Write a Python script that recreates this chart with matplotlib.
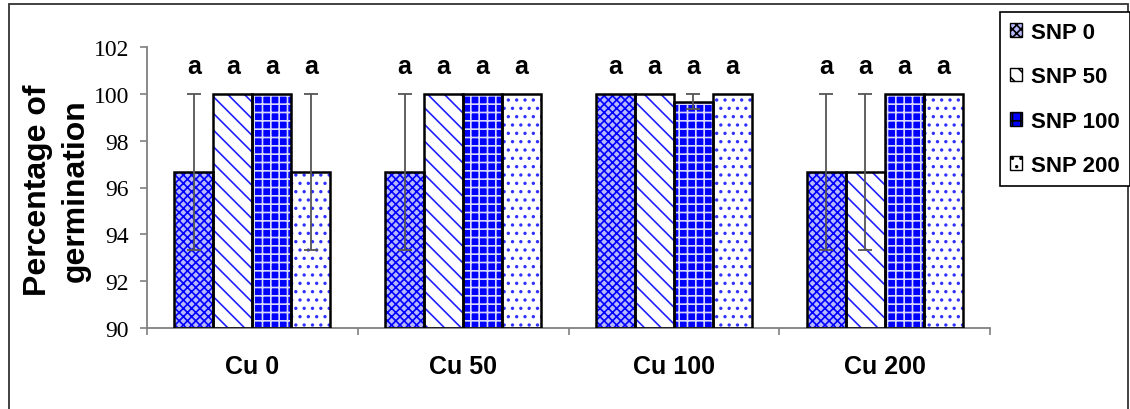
import matplotlib
matplotlib.use("Agg")
import matplotlib.pyplot as plt
import numpy as np
from matplotlib.patches import Patch, Rectangle

# germination (%) per Cu level, one list per SNP dose
cu_levels = ["Cu 0", "Cu 50", "Cu 100", "Cu 200"]
snp_labels = ["SNP 0", "SNP 50", "SNP 100", "SNP 200"]
snp0 = [96.67, 96.67, 100.0, 96.67]
snp50 = [100.0, 100.0, 100.0, 96.67]
snp100 = [100.0, 100.0, 99.67, 100.0]
snp200 = [96.67, 100.0, 100.0, 100.0]
err0 = [3.33, 3.33, 0.0, 3.33]
err50 = [0.0, 0.0, 0.0, 3.33]
err100 = [0.0, 0.0, 0.33, 0.0]
err200 = [3.33, 0.0, 0.0, 0.0]
letters = ["a", "a", "a", "a"]

values = [snp0, snp50, snp100, snp200]
errors = [err0, err50, err100, err200]

# fill colour, hatch, hatch colour for each SNP dose
styles = [
    ("#b8b8ff", "xxxx", "#0000ff"),
    ("white", "\\\\", "#2020ff"),
    ("#0000ff", "++", "#d8d8ff"),
    ("white", "..", "#3030ff"),
]

plt.rcParams["hatch.linewidth"] = 1.2
sans = "Liberation Sans"
serif = "Liberation Serif"

fig = plt.figure(figsize=(11.3, 4.1), dpi=100)
ax = fig.add_axes([147 / 1130, 81 / 410, 843 / 1130, 281 / 410])

x = np.arange(len(cu_levels))
w = 0.185
for i, (vals, errs) in enumerate(zip(values, errors)):
    fc, hatch, hc = styles[i]
    pos = x + (i - 1.5) * w
    ax.bar(pos, np.array(vals) - 90, w, bottom=90, color=fc, hatch=hatch,
           edgecolor=hc, linewidth=0, zorder=2)
    ax.bar(pos, np.array(vals) - 90, w, bottom=90, fill=False,
           edgecolor="black", linewidth=1.8, zorder=3)
    e = np.array(errs)
    m = e > 0
    ax.errorbar(pos[m], np.array(vals)[m], yerr=e[m], fmt="none",
                ecolor="#555555", elinewidth=1.3, capsize=5, capthick=1.3,
                zorder=4)
    for p in pos:
        ax.text(p, 100.9, letters[i], ha="center", va="baseline",
                fontsize=18, fontweight="bold", family=sans)

ax.set_xlim(-0.5, len(cu_levels) - 0.5)
ax.set_ylim(90, 102)
ax.set_yticks(np.arange(90, 103, 2))
ax.set_yticklabels([str(v) for v in range(90, 103, 2)], family=serif, fontsize=17)

ax.set_xticks(np.arange(len(cu_levels) + 1) - 0.5)
ax.set_xticklabels([])
ax.set_xticks(x, minor=True)
ax.set_xticklabels(cu_levels, minor=True, fontsize=18, fontweight="bold", family=sans)
ax.tick_params(axis="x", which="minor", length=0, pad=19)
ax.tick_params(axis="both", which="major", direction="out", length=5,
               color="#808080", width=1.2)
ax.tick_params(axis="y", pad=8)

for s in ["top", "right"]:
    ax.spines[s].set_visible(False)
for s in ["left", "bottom"]:
    ax.spines[s].set_color("#808080")
    ax.spines[s].set_linewidth(1.3)

fig.text(57 / 1130, 0.535, "Percentage of\ngermination", rotation=90,
         ha="center", va="center", fontsize=23, fontweight="bold",
         family=sans, linespacing=1.35)

handles = [Patch(facecolor=fc, hatch=h, edgecolor=hc) for fc, h, hc in styles]
leg = fig.legend(handles, snp_labels, loc="upper left",
                 bbox_to_anchor=(1000 / 1130, 1 - 13 / 410), borderaxespad=0,
                 prop={"family": sans, "weight": "bold", "size": 16},
                 handlelength=0.55, handleheight=0.55, handletextpad=0.4,
                 labelspacing=1.05, borderpad=0.45, fancybox=False,
                 edgecolor="black", framealpha=1)
leg.get_frame().set_linewidth(1.2)
for lh in leg.legend_handles:
    lh.set_edgecolor("black")

# outer frame around the chart area
fig.patches.append(Rectangle((9 / 1130, -0.02), 1119 / 1130, 1.02 - 5 / 410,
                             transform=fig.transFigure, fill=False,
                             edgecolor="#333333", linewidth=1.3))

fig.savefig("out.png", dpi=100)
